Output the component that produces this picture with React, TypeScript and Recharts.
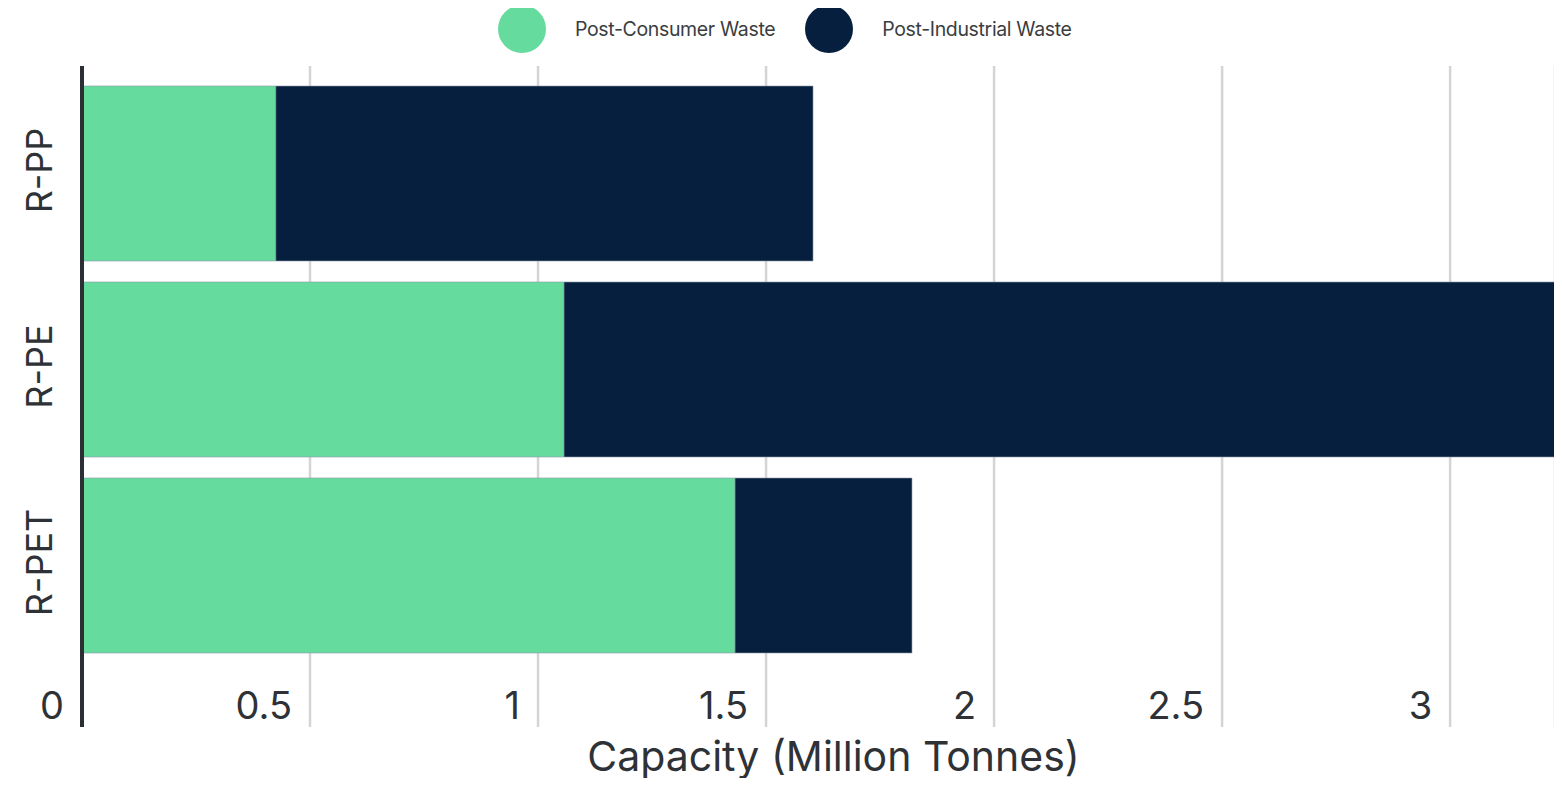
import React from "react";
import { BarChart, Bar, XAxis, YAxis, CartesianGrid } from "recharts";

const categories = ["R-PP", "R-PE", "R-PET"];
const postConsumer = [0.425, 1.057, 1.432];
const postIndustrial = [1.178, 2.173, 0.388];
const xTicks = [0, 0.5, 1, 1.5, 2, 2.5, 3];
const seriesNames = ["Post-Consumer Waste", "Post-Industrial Waste"];
const seriesColors = ["#66DB9E", "#061F3F"];

const data = categories.map((c, i) => ({
  name: c,
  pcw: postConsumer[i],
  piw: postIndustrial[i],
}));

const FONT = "Inter, 'Noto Sans', sans-serif";
const TEXT = "#2e3236";

const XTick = (props: any) => {
  const { x, y, payload } = props;
  return (
    <text x={x - 18} y={y - 8} textAnchor="end" fontSize={38} fontFamily={FONT} fill={TEXT}>
      {payload.value}
    </text>
  );
};

const YTick = (props: any) => {
  const { x, y, payload } = props;
  const bx = x - 30;
  return (
    <text
      x={bx}
      y={y - 3}
      textAnchor="middle"
      fontSize={36}
      fontFamily={FONT}
      fill={TEXT}
      transform={`rotate(-90, ${bx}, ${y - 3})`}
    >
      {payload.value}
    </text>
  );
};

const AxisTitle = (props: any) => {
  const vb = props.viewBox || {};
  return (
    <text
      x={vb.x + vb.width / 2 + 15}
      y={771}
      textAnchor="middle"
      fontSize={41}
      fontFamily={FONT}
      fill={TEXT}
    >
      Capacity (Million Tonnes)
    </text>
  );
};

export default function App() {
  return (
    <div style={{ position: "relative", width: 1562, height: 786, margin: -8, background: "#fff" }}>
      <div
        style={{
          position: "absolute",
          top: 5,
          left: 498,
          display: "flex",
          alignItems: "center",
          fontFamily: FONT,
          fontSize: 19.5,
          color: "#3a3d40",
          letterSpacing: -0.35,
        }}
      >
        {seriesNames.map((n, i) => (
          <div key={n} style={{ display: "flex", alignItems: "center", marginRight: i === 0 ? 30 : 0 }}>
            <svg width={48} height={48}>
              <circle cx={24} cy={24} r={24} fill={seriesColors[i]} />
            </svg>
            <span style={{ marginLeft: 29 }}>{n}</span>
          </div>
        ))}
      </div>
      <BarChart
        width={1562}
        height={786}
        data={data}
        layout="vertical"
        margin={{ top: 66, right: 7, bottom: 0, left: 0 }}
        barCategoryGap={10.5}
        style={{ overflow: "visible" }}
      >
        <CartesianGrid horizontal={false} vertical={true} stroke="#d4d4d4" strokeWidth={2.5} />
        <XAxis
          type="number"
          domain={[0, "dataMax"]}
          ticks={xTicks}
          height={59}
          axisLine={false}
          tickLine={false}
          tickSize={0}
          tickMargin={0}
          tick={<XTick />}
          interval={0}
          label={<AxisTitle />}
        />
        <YAxis
          type="category"
          dataKey="name"
          width={82}
          axisLine={{ stroke: "#2b2f33", strokeWidth: 4 }}
          tickLine={false}
          tickSize={0}
          tickMargin={0}
          tick={<YTick />}
          padding={{ top: 9.5, bottom: 63.5 }}
        />
        <Bar dataKey="pcw" stackId="a" fill={seriesColors[0]} stroke="#8e9aa8" strokeWidth={0.6} isAnimationActive={false} />
        <Bar dataKey="piw" stackId="a" fill={seriesColors[1]} stroke="#8e9aa8" strokeWidth={0.6} isAnimationActive={false} />
      </BarChart>
    </div>
  );
}
